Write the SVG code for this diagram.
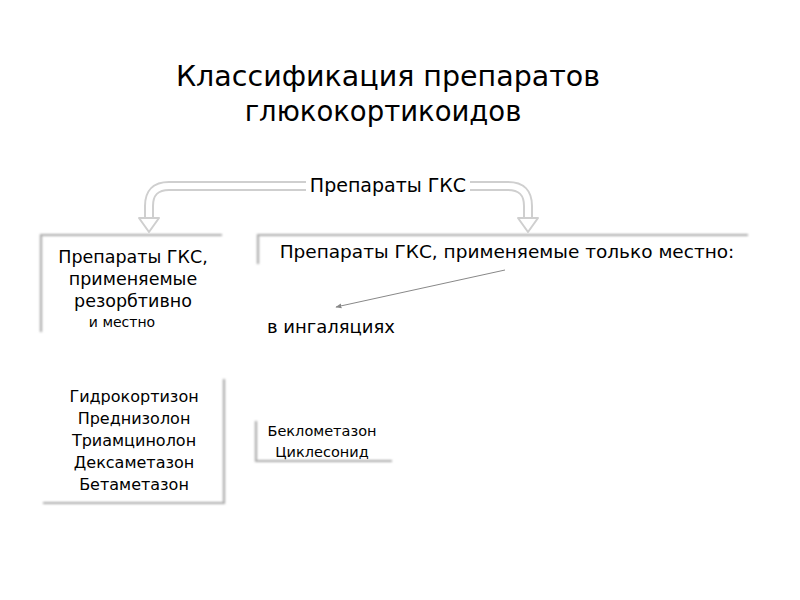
<svg xmlns="http://www.w3.org/2000/svg" width="800" height="600" viewBox="0 0 800 600">
<defs>
<filter id="blur" x="-10%" y="-10%" width="120%" height="120%"><feGaussianBlur stdDeviation="0.9"/></filter>
<marker id="ah" viewBox="0 0 10 10" refX="9" refY="5" markerWidth="6" markerHeight="6" orient="auto"><path d="M0,1 L10,5 L0,9 z" fill="#888"/></marker>
</defs>
<style>
text{font-family:"DejaVu Sans","Liberation Sans",sans-serif;fill:#000;text-anchor:middle}
.t{font-size:28.5px}
.m{font-size:17.5px}
.s{font-size:14px}
.sh{stroke:#aaa;stroke-width:2.2;fill:none;filter:url(#blur)}
.ao{fill:none;stroke:#cfcfcf;stroke-width:10;stroke-linejoin:round}
.ai{fill:none;stroke:#fff;stroke-width:6;stroke-linejoin:round}
.hd{fill:#fff;stroke:#cfcfcf;stroke-width:2;stroke-linejoin:round}
</style>
<rect width="800" height="600" fill="#fff"/>
<g id="title">
<text class="t" x="388" y="86">Классификация препаратов</text>
<text class="t" x="383" y="121" style="font-size:27.5px">глюкокортикоидов</text>
</g>
<g id="connectors">
<path class="ao" d="M306,186 H169 Q149,186 149,206 V218"/>
<path class="ao" d="M470,186 H508 Q528,186 528,206 V218"/>
<path class="ai" d="M306,186 H169 Q149,186 149,206 V220"/>
<path class="ai" d="M470,186 H508 Q528,186 528,206 V220"/>
<path class="hd" d="M139,218 H159 L149,232 Z"/>
<path class="hd" d="M518,218 H538 L528,232 Z"/>
<line x1="505" y1="270" x2="336" y2="307" stroke="#888" stroke-width="1" marker-end="url(#ah)"/>
</g>
<g id="root">
<text class="m" x="388" y="192" style="font-size:19px">Препараты ГКС</text>
</g>
<g id="systemic">
<rect x="41" y="235" width="182" height="97" fill="#fff"/>
<path class="sh" d="M41,332 V235 H222"/>
<text class="m" x="133" y="263">Препараты ГКС,</text>
<text class="m" x="133" y="285">применяемые</text>
<text class="m" x="133" y="307">резорбтивно</text>
<text class="s" x="122" y="327">и местно</text>
</g>
<g id="local">
<rect x="258" y="235" width="492" height="30" fill="#fff"/>
<path class="sh" d="M258,264 V235 H748"/>
<text class="m" x="507" y="258" style="font-size:18.5px">Препараты ГКС, применяемые только местно:</text>
</g>
<g id="inhal">
<text class="m" x="331" y="333" style="font-size:18px">в ингаляциях</text>
</g>
<g id="list1">
<rect x="42" y="378" width="182" height="125" fill="#fff"/>
<path class="sh" d="M224,379 V503 H43"/>
<text class="m" x="134" y="402" style="font-size:16px">Гидрокортизон</text>
<text class="m" x="134" y="424" style="font-size:16px">Преднизолон</text>
<text class="m" x="134" y="446" style="font-size:16px">Триамцинолон</text>
<text class="m" x="134" y="468" style="font-size:16px">Дексаметазон</text>
<text class="m" x="134" y="490" style="font-size:16px">Бетаметазон</text>
</g>
<g id="list2">
<rect x="256" y="420" width="136" height="41" fill="#fff"/>
<path class="sh" d="M256,421 V461 H392"/>
<text class="m" x="322" y="436" style="font-size:14.5px">Беклометазон</text>
<text class="m" x="322" y="457" style="font-size:14.5px">Циклесонид</text>
</g>
</svg>
